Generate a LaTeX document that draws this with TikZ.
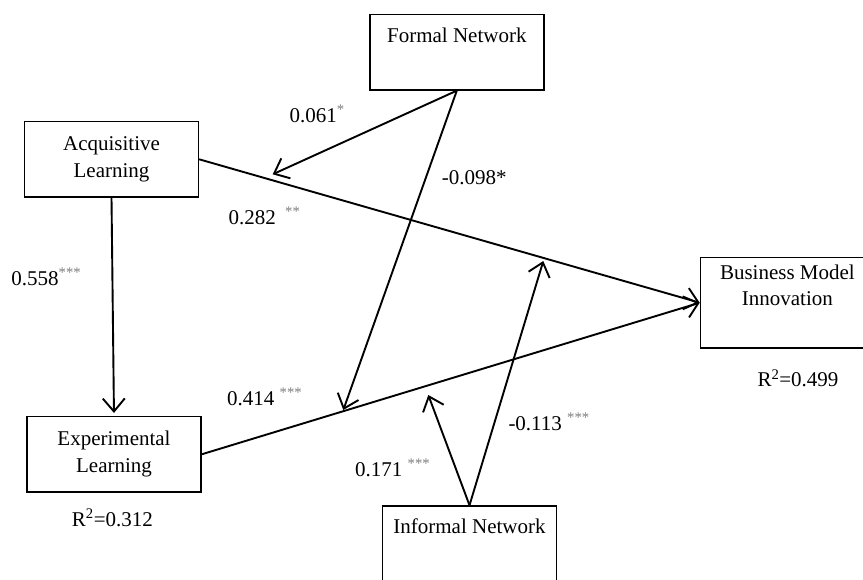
\documentclass[tikz,border=0pt]{standalone}
\usepackage{fontspec}
\setmainfont{Liberation Serif}
\usetikzlibrary{arrows.meta}
\definecolor{stargray}{RGB}{125,125,125}
\newcommand\sigstars[1]{\textsuperscript{\textcolor{stargray}{#1}}}
\begin{document}
\begin{tikzpicture}[x=1pt,y=-1pt,
  box/.style={draw, line width=1.4pt, minimum width=174pt, minimum height=75.3pt,
    align=center, inner sep=0pt, font=\fontsize{21}{26.7}\selectfont},
  lbl/.style={anchor=base west, inner sep=0pt, font=\fontsize{21}{26.7}\selectfont},
  arr/.style={line width=1.9pt, -{Straight Barb[length=13pt,width=22pt]}}]
\useasboundingbox (0,0) rectangle (863,579);
\clip (0,0) rectangle (863,579);

% boxes
\node[box] (formal) at (456.8,52.3) {Formal Network\\\strut};
\node[box] (acq) at (111.5,159.3) {Acquisitive\\Learning};
\node[box] (exp) at (114,454.3) {Experimental\\Learning};
\node[box, minimum height=90.7pt] (bmi) at (787.4,302.7) {Business Model\\Innovation\\\strut};
\node[box] (informal) at (469.5,543.6) {Informal Network\\\strut};

% arrow tips on paths
\coordinate (fa) at (272.7,174.3);
\coordinate (fe) at (343.3,410);
\coordinate (ia) at (543.3,261);
\coordinate (ie) at (428.3,395);

% main paths
\draw[arr] (acq.east) -- (bmi.west);
\draw[arr] (exp.east) -- (bmi.west);
\draw[arr, shorten >=3pt] (acq.south) -- (exp.north);

% moderators
\draw[arr] (formal.south) -- (fa);
\draw[arr] (formal.south) -- (fe);
\draw[arr] (informal.north) -- (ia);
\draw[arr] (informal.north) -- (ie);

% labels
\node[lbl] (l1) at (289.3,122.3) {0.061\sigstars{*}};
\node[lbl] (l2) at (228.3,224) {0.282\hspace{0.45em}\sigstars{**}};
\node[lbl] (l3) at (441.7,184.3) {-0.098*};
\node[lbl] (l4) at (11.3,285) {0.558\sigstars{***}};
\node[lbl] (l5) at (227,405) {0.414 \sigstars{***}};
\node[lbl] (l6) at (355,476) {0.171 \sigstars{***}};
\node[lbl] (l7) at (508.3,430) {-0.113 \sigstars{***}};
\node[lbl] (r1) at (71.7,526) {R\textsuperscript{2}=0.312};
\node[lbl] (r2) at (757.3,386.7) {R\textsuperscript{2}=0.499};
\end{tikzpicture}
\end{document}
